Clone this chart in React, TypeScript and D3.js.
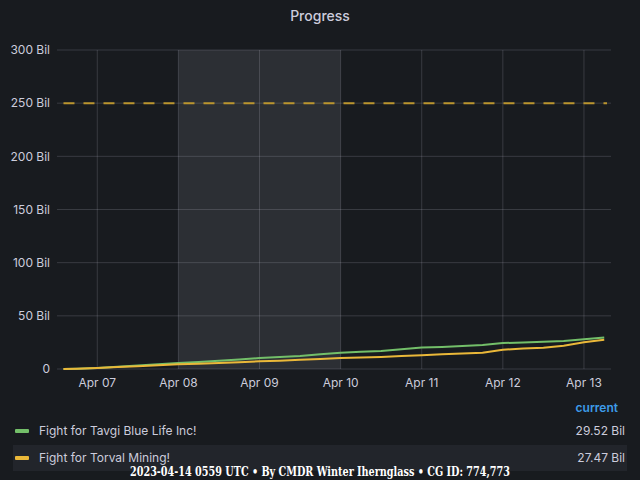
import React from 'react';
import * as d3 from 'd3';

const times = [
  '2023-04-06T14:00', '2023-04-06T18:00',
  '2023-04-07T00:00', '2023-04-07T06:00', '2023-04-07T12:00', '2023-04-07T18:00',
  '2023-04-08T00:00', '2023-04-08T06:00', '2023-04-08T12:00', '2023-04-08T18:00',
  '2023-04-09T00:00', '2023-04-09T06:00', '2023-04-09T12:00', '2023-04-09T18:00',
  '2023-04-10T00:00', '2023-04-10T06:00', '2023-04-10T12:00', '2023-04-10T18:00',
  '2023-04-11T00:00', '2023-04-11T06:00', '2023-04-11T12:00', '2023-04-11T18:00',
  '2023-04-12T00:00', '2023-04-12T06:00', '2023-04-12T12:00', '2023-04-12T18:00',
  '2023-04-13T00:00', '2023-04-13T06:00',
];

// values in billions
const tavgi = [
  0, 0.3, 0.9, 2.2, 3.2, 4.4, 5.6, 6.6, 7.8, 9.0, 10.3, 11.2, 12.2, 13.8,
  15.3, 16.2, 17.0, 18.6, 20.2, 20.8, 21.6, 22.6, 24.4, 25.0, 25.6, 26.4, 28.0, 29.52,
];
const torval = [
  0, 0.2, 0.9, 1.8, 2.7, 3.6, 4.5, 5.0, 5.6, 6.4, 7.2, 7.8, 8.6, 9.5,
  10.3, 10.8, 11.4, 12.2, 13.0, 13.8, 14.6, 15.2, 18.2, 19.2, 20.0, 21.8, 25.2, 27.47,
];

const seriesNames = ['Fight for Tavgi Blue Life Inc!', 'Fight for Torval Mining!'];
const seriesColors = ['#73bf69', '#eab839'];
const currentLabels = ['29.52 Bil', '27.47 Bil'];

const yTicks = [0, 50, 100, 150, 200, 250, 300];
const xTicks = ['2023-04-07', '2023-04-08', '2023-04-09', '2023-04-10', '2023-04-11', '2023-04-12', '2023-04-13'];
const shadeRange = ['2023-04-08T00:00', '2023-04-10T00:00'];
const threshold = 250;

const W = 640;
const H = 480;
const font = 'Inter, "Noto Sans", sans-serif';
const textColor = '#ccccdc';

export default function App() {
  const svgRef = React.useRef<SVGSVGElement>(null);

  React.useEffect(() => {
    if (!svgRef.current) return;
    const svg = d3.select(svgRef.current);
    svg.selectAll('*').remove();

    const parse = (s: string) => new Date(s);
    const left = 57;
    const right = 611;
    const top = 50;
    const bottom = 369;

    const x = d3.scaleTime()
      .domain([parse('2023-04-06T12:05'), parse('2023-04-13T08:00')])
      .range([left, right]);
    const y = d3.scaleLinear().domain([0, 300]).range([bottom, top]);

    svg.append('rect').attr('width', W).attr('height', H).attr('fill', '#181b1f');

    // title
    svg.append('text')
      .attr('x', W / 2).attr('y', 21)
      .attr('text-anchor', 'middle')
      .attr('font-family', font).attr('font-size', 14).attr('font-weight', 500)
      .attr('fill', textColor)
      .text('Progress');

    // shaded time region
    svg.append('rect')
      .attr('x', x(parse(shadeRange[0])))
      .attr('y', top)
      .attr('width', x(parse(shadeRange[1])) - x(parse(shadeRange[0])))
      .attr('height', bottom - top)
      .attr('fill', '#2c2f34');

    // grid
    const grid = svg.append('g');
    grid.selectAll('line.h').data(yTicks).enter().append('line')
      .attr('x1', left).attr('x2', right)
      .attr('y1', d => y(d)).attr('y2', d => y(d))
      .attr('stroke', 'rgba(204,204,220,0.18)').attr('stroke-width', 1);
    grid.selectAll('line.v').data(xTicks).enter().append('line')
      .attr('x1', d => x(parse(d + 'T00:00'))).attr('x2', d => x(parse(d + 'T00:00')))
      .attr('y1', top).attr('y2', bottom)
      .attr('stroke', 'rgba(204,204,220,0.18)').attr('stroke-width', 1);

    // y labels
    svg.append('g').selectAll('text').data(yTicks).enter().append('text')
      .attr('x', 50).attr('y', d => y(d)).attr('dy', '0.35em')
      .attr('text-anchor', 'end')
      .attr('font-family', font).attr('font-size', 12)
      .attr('fill', textColor)
      .text(d => (d === 0 ? '0' : `${d} Bil`));

    // x labels
    const fmt = d3.timeFormat('%b %d');
    svg.append('g').selectAll('text').data(xTicks).enter().append('text')
      .attr('x', d => x(parse(d + 'T00:00'))).attr('y', 387)
      .attr('text-anchor', 'middle')
      .attr('font-family', font).attr('font-size', 12)
      .attr('fill', textColor)
      .text(d => fmt(parse(d + 'T00:00')));

    // threshold
    svg.append('line')
      .attr('x1', x(parse(times[0]))).attr('x2', right - 4)
      .attr('y1', y(threshold)).attr('y2', y(threshold))
      .attr('stroke', '#bb952e').attr('stroke-width', 2)
      .attr('stroke-dasharray', '11,9');

    // series
    const line = d3.line<number>()
      .x((_, i) => x(parse(times[i])))
      .y(d => y(d));
    [tavgi, torval].forEach((vals, i) => {
      svg.append('path')
        .datum(vals)
        .attr('d', line)
        .attr('fill', 'none')
        .attr('stroke', seriesColors[i])
        .attr('stroke-width', 2);
    });

    // legend
    svg.append('text')
      .attr('x', 618).attr('y', 412)
      .attr('text-anchor', 'end')
      .attr('font-family', font).attr('font-size', 12).attr('font-weight', 600)
      .attr('fill', '#3d9be9')
      .text('current');

    svg.append('rect')
      .attr('x', 13).attr('y', 445).attr('width', 614).attr('height', 26)
      .attr('fill', '#22252b');

    seriesNames.forEach((name, i) => {
      const cy = 431 + i * 27;
      svg.append('rect')
        .attr('x', 15).attr('y', cy - 2).attr('width', 14).attr('height', 4)
        .attr('rx', 1)
        .attr('fill', seriesColors[i]);
      svg.append('text')
        .attr('x', 39).attr('y', cy).attr('dy', '0.35em')
        .attr('font-family', font).attr('font-size', 12)
        .attr('fill', textColor)
        .text(name);
      svg.append('text')
        .attr('x', 625).attr('y', cy).attr('dy', '0.35em')
        .attr('text-anchor', 'end')
        .attr('font-family', font).attr('font-size', 12)
        .attr('fill', textColor)
        .text(currentLabels[i]);
    });

    // footer
    svg.append('text')
      .attr('x', 320).attr('y', 476)
      .attr('text-anchor', 'middle')
      .attr('font-family', '"DejaVu Serif", serif').attr('font-size', 13).attr('font-weight', 'bold')
      .attr('font-stretch', 'condensed')
      .attr('fill', '#ffffff')
      .attr('textLength', 380)
      .attr('lengthAdjust', 'spacingAndGlyphs')
      .text('2023-04-14 0559 UTC • By CMDR Winter Ihernglass • CG ID: 774,773');
  }, []);

  return (
    <svg
      ref={svgRef}
      width={W}
      height={H}
      style={{ position: 'absolute', left: 0, top: 0, display: 'block' }}
    />
  );
}
